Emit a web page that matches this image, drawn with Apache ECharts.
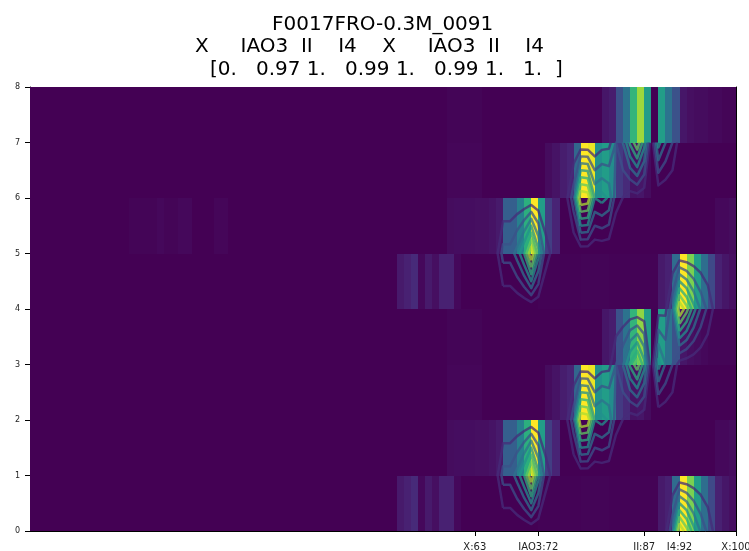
<!DOCTYPE html>
<html><head><meta charset="utf-8">
<style>html,body{margin:0;padding:0;background:#fff}#c{width:749px;height:551px;filter:blur(0.4px)}</style>
<script src="https://cdn.jsdelivr.net/npm/echarts@6/dist/echarts.min.js"></script>
</head><body><div id="c"></div>
<script>
const titleLines = ['F0017FRO-0.3M_0091', 'X     IAO3  II    I4    X     IAO3  II    I4', '[0.   0.97 1.   0.99 1.   0.99 1.   1.  ]'];
const xTickValues = [63, 72, 87, 92, 100];
const xTickNames = ['X', 'IAO3', 'II', 'I4', 'X'];
const yTickValues = [0, 1, 2, 3, 4, 5, 6, 7, 8];
const contourLevels = [0.125, 0.25, 0.375, 0.5, 0.625, 0.75, 0.875];

const row0 = [0,0,0,0,0,0,0,0,0,0, 0,0,0,0,0,0,0,0,0,0, 0,0,0,0,0,0,0,0,0,0, 0,0,0,0,0,0,0,0,0,0, 0,0,0,0,0,0,0,0,0,0,
  0,0,.07,.09,.12,.02,.07,.04,.09,.09, .02,0,0,0,0,0,0,0,0,0, 0,0,.005,.005,.005,.005,.005,.005,.01,.01, .01,.01,.005,.005,.005,.005,.005,.005,.005,.07,
  .09,.35,1,.8,.55,.36,.22,.09,.06,.04];
const row1 = [0,0,0,0,0,0,0,0,0,0, 0,0,0,0,0,0,0,0,0,0, 0,0,0,0,0,0,0,0,0,0, 0,0,0,0,0,0,0,0,0,0, 0,0,0,0,0,0,0,0,0,0,
  0,0,0,0,0,0,0,0,0,.03, .035,.035,.035,.04,.04,.05,.07,.3,.3,.43, .63,1,.55,.18,.1,0,0,0,0,0, 0,0,0,0,0,0,0,0,0,0,
  0,0,0,0,0,0,0,.02,.02,.03];
const row2 = [0,0,0,0,0,0,0,0,0,0, 0,0,0,0,0,0,0,0,0,0, 0,0,0,0,0,0,0,0,0,0, 0,0,0,0,0,0,0,0,0,0, 0,0,0,0,0,0,0,0,0,0,
  0,0,0,0,0,0,0,0,0,.015, .015,.015,.015,.015,0,0,0,0,0,0, 0,0,0,.03,.05,.08,.1,.33,1,.97, .5,.55,.48,.17,.12,.05,.06,.03,0,0,
  0,0,0,0,0,0,0,0,0,0];
const row3 = [0,0,0,0,0,0,0,0,0,0, 0,0,0,0,0,0,0,0,0,0, 0,0,0,0,0,0,0,0,0,0, 0,0,0,0,0,0,0,0,0,0, 0,0,0,0,0,0,0,0,0,0,
  0,0,0,0,0,0,0,0,0,.01, .01,.01,.01,.01,0,0,0,0,0,0, 0,0,0,0,0,0,0,0,0,0, 0,.06,.08,.25,.38,.65,.83,.55,0,.55,
  .38,.25,.06,.04,.03,.02,.01,.01,.01,.01];
const row4 = [0,0,0,0,0,0,0,0,0,0, 0,0,0,0,0,0,0,0,0,0, 0,0,0,0,0,0,0,0,0,0, 0,0,0,0,0,0,0,0,0,0, 0,0,0,0,0,0,0,0,0,0,
  0,0,.07,.09,.12,.02,.07,.04,.09,.09, .02,0,0,0,0,0,0,0,0,0, 0,0,.005,.005,.005,.005,.005,.005,.01,.01, .01,.01,.005,.005,.005,.005,.005,.005,.005,.07,
  .09,.35,1,.8,.55,.36,.22,.09,.06,.04];
const row5 = [0,0,0,0,0,0,0,0,0,0, 0,0,0,0,.01,.01,.01,.01,.02,.01, .01,.02,.02,0,0,0,.015,.015,0,0, 0,0,0,0,0,0,0,0,0,0, 0,0,0,0,0,0,0,0,0,0,
  0,0,0,0,0,0,0,0,0,.03, .035,.035,.035,.04,.04,.05,.07,.3,.3,.43, .63,1,.55,.18,.1,0,0,0,0,0, 0,0,0,0,0,0,0,0,0,0,
  0,0,0,0,0,0,0,.02,.02,.03];
const row6 = [0,0,0,0,0,0,0,0,0,0, 0,0,0,0,0,0,0,0,0,0, 0,0,0,0,0,0,0,0,0,0, 0,0,0,0,0,0,0,0,0,0, 0,0,0,0,0,0,0,0,0,0,
  0,0,0,0,0,0,0,0,0,.015, .015,.015,.015,.015,0,0,0,0,0,0, 0,0,0,.03,.05,.08,.1,.33,1,.97, .5,.55,.48,.17,.12,.05,.06,.03,0,0,
  0,0,0,0,0,0,0,0,0,0];
const row7 = [0,0,0,0,0,0,0,0,0,0, 0,0,0,0,0,0,0,0,0,0, 0,0,0,0,0,0,0,0,0,0, 0,0,0,0,0,0,0,0,0,0, 0,0,0,0,0,0,0,0,0,0,
  0,0,0,0,0,0,0,0,0,.01, .01,.01,.01,.01,0,0,0,0,0,0, 0,0,0,0,0,0,0,0,0,0, 0,.06,.08,.25,.38,.65,.85,.55,0,.55,
  .38,.25,.06,.04,.03,.03,.02,.02,.01,.01];
const rows = [row0, row1, row2, row3, row4, row5, row6, row7];

const viridisStops = ['#440154','#482475','#414487','#355f8d','#2a788e','#21918c','#22a884','#44bf70','#7ad151','#bddf26','#fde725'];
function viridis(v) {
  const t = Math.max(0, Math.min(1, v)) * (viridisStops.length - 1);
  const i = Math.min(viridisStops.length - 2, Math.floor(t)), f = t - i;
  const p = s => [1, 3, 5].map(j => parseInt(s.substr(j, 2), 16));
  const a = p(viridisStops[i]), b = p(viridisStops[i + 1]);
  return 'rgb(' + a.map((c, j) => Math.round(c + (b[j] - c) * f)).join(',') + ')';
}

// marching squares on the grid points (col,row); segments are chained into polylines
function contour(level) {
  const segs = [];
  const ip = (x0, y0, v0, x1, y1, v1) => {
    const t = (level - v0) / (v1 - v0);
    return [x0 + (x1 - x0) * t, y0 + (y1 - y0) * t];
  };
  for (let r = 0; r < rows.length - 1; r++) for (let c = 0; c < rows[r].length - 1; c++) {
    const a = rows[r][c], b = rows[r][c + 1], d = rows[r + 1][c + 1], e = rows[r + 1][c];
    const pts = [];
    if ((a >= level) !== (b >= level)) pts.push(['b', ip(c, r, a, c + 1, r, b)]);
    if ((b >= level) !== (d >= level)) pts.push(['r', ip(c + 1, r, b, c + 1, r + 1, d)]);
    if ((d >= level) !== (e >= level)) pts.push(['t', ip(c + 1, r + 1, d, c, r + 1, e)]);
    if ((e >= level) !== (a >= level)) pts.push(['l', ip(c, r + 1, e, c, r, a)]);
    if (pts.length === 2) segs.push([pts[0][1], pts[1][1]]);
    else if (pts.length === 4) { segs.push([pts[0][1], pts[1][1]]); segs.push([pts[2][1], pts[3][1]]); }
  }
  const key = p => p[0].toFixed(5) + ',' + p[1].toFixed(5);
  const used = new Array(segs.length).fill(false), at = {};
  segs.forEach((s, i) => s.forEach(p => (at[key(p)] = at[key(p)] || []).push(i)));
  const out = [];
  const walk = (line, front) => {
    for (;;) {
      const end = front ? line[0] : line[line.length - 1];
      const nxt = (at[key(end)] || []).find(i => !used[i]);
      if (nxt === undefined) return;
      used[nxt] = true;
      const s = segs[nxt], p = key(s[0]) === key(end) ? s[1] : s[0];
      front ? line.unshift(p) : line.push(p);
    }
  };
  segs.forEach((s, i) => {
    if (used[i]) return;
    used[i] = true;
    const line = [s[0], s[1]];
    walk(line, false); walk(line, true);
    line.forEach(p => out.push(p));
    out.push(['-', '-']);
  });
  return out;
}

const cells = [];
rows.forEach((row, r) => row.forEach((v, c) => cells.push([c, r, v])));

const series = [{
  type: 'custom', coordinateSystem: 'cartesian2d', clip: true, silent: true,
  data: cells, encode: { x: 0, y: 1 },
  renderItem: (params, api) => {
    const c = api.value(0), r = api.value(1), v = api.value(2);
    const p0 = api.coord([c, r + 1]), p1 = api.coord([c + 1, r]);
    const x0 = Math.round(p0[0]), x1 = Math.round(p1[0]), y0 = Math.round(p0[1]), y1 = Math.round(p1[1]);
    return { type: 'rect', shape: { x: x0, y: y0, width: x1 - x0, height: y1 - y0 }, style: { fill: viridis(v) } };
  }
}];
contourLevels.forEach(L => series.push({
  type: 'line', data: contour(L), symbol: 'none', silent: true, clip: true, connectNulls: false,
  lineStyle: { color: viridis(L), width: 2.5, opacity: 0.75, join: 'round' }, z: 5
}));

const mkTitle = (i, left, top) => ({ text: titleLines[i], left, top, textAlign: 'left',
  textStyle: { fontFamily: 'DejaVu Sans', fontSize: 20, fontWeight: 'normal', color: '#000' } });

const spine = { show: true, onZero: false, lineStyle: { color: '#000', width: 1 } };
const chart = echarts.init(document.getElementById('c'), null, { renderer: 'canvas' });
chart.setOption({
  animation: false,
  backgroundColor: '#fff',
  title: [mkTitle(0, 267, 10), mkTitle(1, 190, 32), mkTitle(2, 205, 55)],
  grid: { left: 30, right: 13, top: 87, bottom: 20, containLabel: false, outerBoundsMode: 'none' },
  tooltip: { show: false },
  xAxis: [{
    type: 'value', min: 0, max: 100, position: 'bottom',
    splitLine: { show: false },
    axisLine: spine,
    axisTick: { show: true, length: 5, lineStyle: { color: '#000' }, customValues: xTickValues },
    axisLabel: { fontFamily: 'DejaVu Sans', fontSize: 10, color: '#222', margin: 11, showMinLabel: true, showMaxLabel: true,
      customValues: xTickValues,
      formatter: v => xTickNames[xTickValues.indexOf(v)] + ':' + v }
  }, {
    type: 'value', min: 0, max: 100, position: 'top',
    splitLine: { show: false }, axisLine: spine, axisTick: { show: false }, axisLabel: { show: false }
  }],
  yAxis: [{
    type: 'value', min: 0, max: 8, interval: 1,
    splitLine: { show: false },
    axisLine: spine,
    axisTick: { show: true, length: 5, lineStyle: { color: '#000' } },
    axisLabel: { fontFamily: 'DejaVu Sans', fontSize: 8, color: '#222', margin: 10,
      customValues: yTickValues }
  }, {
    type: 'value', min: 0, max: 8, interval: 1, position: 'right',
    splitLine: { show: false }, axisLine: spine, axisTick: { show: false }, axisLabel: { show: false }
  }],
  series
});
</script></body></html>
